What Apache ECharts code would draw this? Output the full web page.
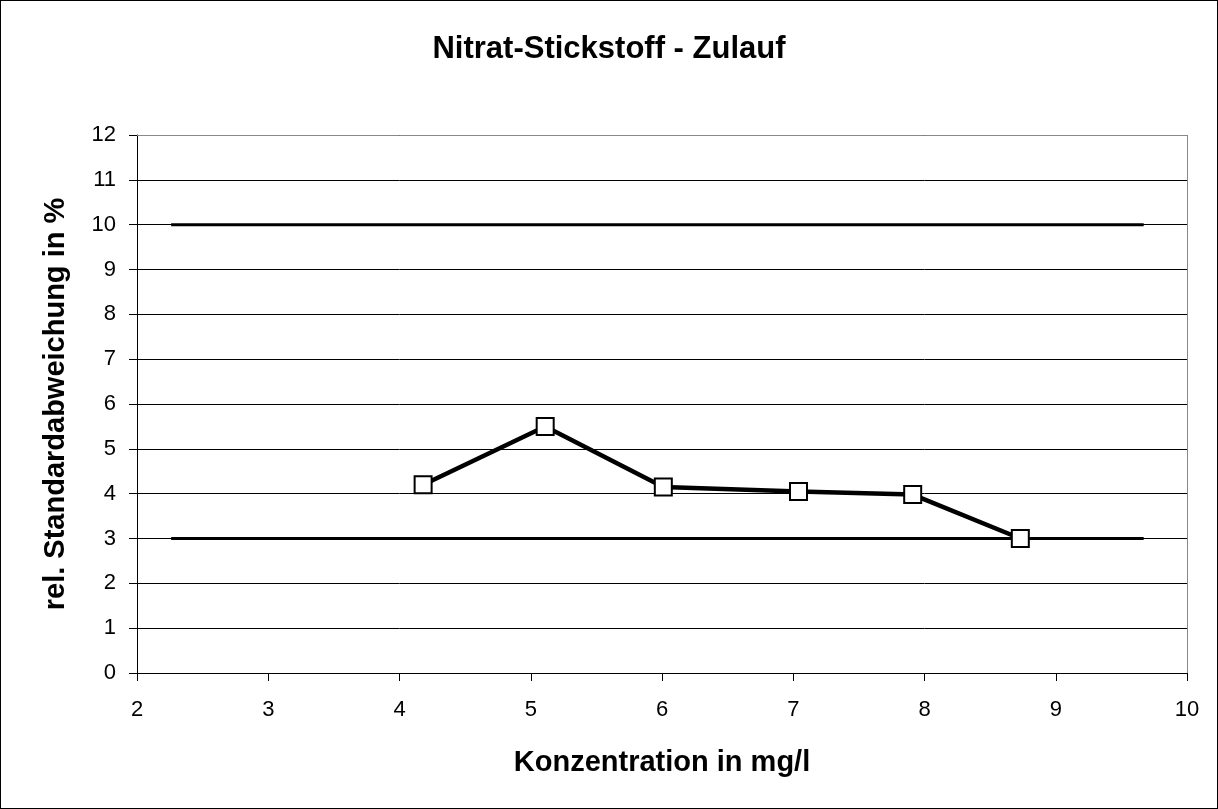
<!DOCTYPE html>
<html>
<head>
<meta charset="utf-8">
<script src="https://cdn.jsdelivr.net/npm/echarts@6/dist/echarts.min.js"></script>
<style>
  html, body { margin: 0; padding: 0; background: #fff; }
  #chart { width: 1218px; height: 809px; box-sizing: border-box; border: 1px solid #000; }
</style>
</head>
<body>
<div id="chart"></div>
<script>
// Messwerte
var konzentration = [4.18, 5.11, 6.01, 7.04, 7.91, 8.73];
var relStdAbw = [4.2, 5.5, 4.15, 4.05, 3.98, 3.0];
// Grenzlinien
var grenzeX = [2.26, 9.67];
var grenzeOben = 10;
var grenzeUnten = 3;

var messPunkte = konzentration.map(function (x, i) { return [x, relStdAbw[i]]; });

var myChart = echarts.init(document.getElementById('chart'));
var fontName = '"Liberation Sans", Arial, sans-serif';

var option = {
    animation: false,
    title: {
        text: 'Nitrat-Stickstoff - Zulauf',
        left: 'center',
        top: 28,
        textStyle: { fontFamily: fontName, fontSize: 31, fontWeight: 'bold', color: '#000' }
    },
    grid: { left: 136, right: 30, top: 134, bottom: 135 },
    xAxis: {
        type: 'value',
        min: 2, max: 10, interval: 1,
        name: 'Konzentration in mg/l',
        nameLocation: 'middle',
        nameGap: 75,
        nameTextStyle: { fontFamily: fontName, fontSize: 29, fontWeight: 'bold', color: '#000' },
        axisLine: { show: true, lineStyle: { color: '#000', width: 1 } },
        axisTick: { show: true, inside: false, length: 8, lineStyle: { color: '#000' } },
        axisLabel: { fontFamily: fontName, fontSize: 22, color: '#000', margin: 26 },
        splitLine: { show: false }
    },
    yAxis: {
        type: 'value',
        min: 0, max: 12, interval: 1,
        name: 'rel. Standardabweichung in %',
        nameLocation: 'middle',
        nameGap: 67,
        nameTextStyle: { fontFamily: fontName, fontSize: 29, fontWeight: 'bold', color: '#000' },
        axisLine: { show: true, lineStyle: { color: '#000', width: 1 } },
        axisTick: { show: true, inside: false, length: 8, lineStyle: { color: '#000' } },
        axisLabel: { fontFamily: fontName, fontSize: 22, color: '#000', margin: 21 },
        splitLine: { show: true, lineStyle: { color: '#000', width: 1 } }
    },
    series: [
        {
            type: 'line',
            data: [[grenzeX[0], grenzeOben], [grenzeX[1], grenzeOben]],
            symbol: 'none',
            lineStyle: { color: '#000', width: 3 },
            silent: true,
            // rechter und oberer Rand der Zeichenfläche (grau)
            markLine: {
                symbol: 'none', silent: true, label: { show: false },
                lineStyle: { color: '#888', width: 1, type: 'solid' },
                data: [{ xAxis: 10 }, { yAxis: 12 }]
            }
        },
        {
            type: 'line',
            data: [[grenzeX[0], grenzeUnten], [grenzeX[1], grenzeUnten]],
            symbol: 'none',
            lineStyle: { color: '#000', width: 3 },
            silent: true
        },
        {
            type: 'line',
            data: messPunkte,
            symbol: 'rect',
            symbolSize: 17,
            showAllSymbol: true,
            lineStyle: { color: '#000', width: 4.5 },
            itemStyle: { color: '#fff', borderColor: '#000', borderWidth: 2 },
            z: 5
        }
    ]
};

myChart.setOption(option);
</script>
</body>
</html>
